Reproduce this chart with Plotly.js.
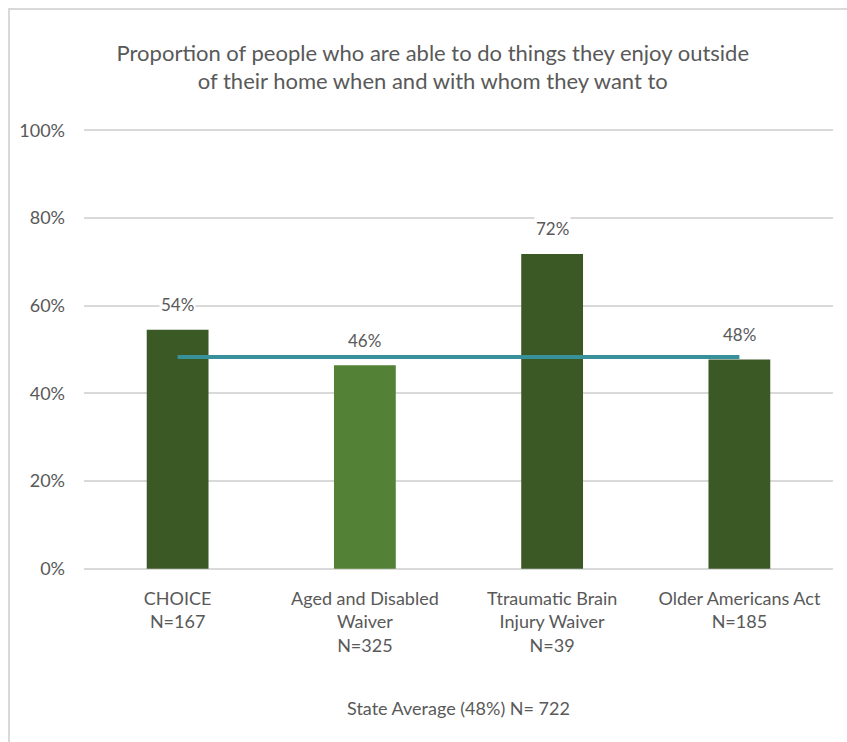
<!DOCTYPE html>
<html>
<head>
<meta charset="utf-8">
<script src="https://cdn.plot.ly/plotly-3.0.1.min.js"></script>
<style>
html,body{margin:0;padding:0;background:#fff;}
#frame{position:absolute;left:8px;top:8px;width:845px;height:740px;border-left:2px solid #d9d9d9;border-top:2px solid #d9d9d9;box-sizing:border-box;}
#chart{position:absolute;left:0;top:0;width:847px;height:742px;}
</style>
</head>
<body>
<div id="frame"></div>
<div id="chart"></div>
<script>
const categories = ["CHOICE", "Aged and Disabled Waiver", "Ttraumatic Brain Injury Waiver", "Older Americans Act"];
const tickLabels = ["CHOICE<br>N=167", "Aged and Disabled<br>Waiver<br>N=325", "Ttraumatic Brain<br>Injury Waiver<br>N=39", "Older Americans Act<br>N=185"];
const values = [54.5, 46.4, 71.8, 47.7];
const valueLabels = ["54%", "46%", "72%", "48%"];
const barColors = ["#3b5925", "#538135", "#3b5925", "#3b5925"];
const stateAverage = [48.3, 48.3, 48.3, 48.3];
const yTicks = [0, 20, 40, 60, 80, 100];
const yTickLabels = ["0%", "20%", "40%", "60%", "80%", "100%"];

const font = "Lato, sans-serif";
const gray = "#595959";

const traces = [
  {type: "bar", x: categories, y: values, marker: {color: barColors}, width: 0.33, hoverinfo: "skip"},
  {type: "scatter", mode: "lines", x: categories, y: stateAverage, line: {color: "#37909a", width: 4}, hoverinfo: "skip"}
];

const annotations = categories.map((c, i) => ({
  x: c, y: values[i], xref: "x", yref: "y", text: valueLabels[i], showarrow: false,
  yanchor: "middle", yshift: 25, bgcolor: "#ffffff", borderpad: 1,
  font: {family: font, size: 17, color: gray}
}));

const layout = {
  width: 847, height: 742,
  paper_bgcolor: "rgba(0,0,0,0)", plot_bgcolor: "rgba(0,0,0,0)",
  margin: {l: 84, r: 14, t: 129, b: 172},
  showlegend: false,
  bargap: 0.67,
  title: {text: "Proportion of people who are able to do things they enjoy outside<br>of their home when and with whom they want to",
          x: 0.511, xref: "container", xanchor: "center", y: 0.918, yref: "container", yanchor: "middle",
          font: {family: font, size: 22, color: gray}},
  xaxis: {
    type: "category", tickmode: "array", tickvals: categories, ticktext: tickLabels,
    tickfont: {family: font, size: 18, color: gray}, showgrid: false, zeroline: false,
    showline: false, ticks: "", ticklen: 0, ticklabelstandoff: 16,
    title: {text: "State Average (48%) N= 722", font: {family: font, size: 18, color: gray}, standoff: 47}
  },
  yaxis: {
    range: [-0.3, 100.3], tickmode: "array", tickvals: yTicks, ticktext: yTickLabels,
    tickfont: {family: font, size: 18, color: gray}, showgrid: true, gridcolor: "#d9d9d9", gridwidth: 2,
    zeroline: false, showline: false, ticks: "", ticklabelstandoff: 18
  },
  annotations: annotations
};

Plotly.newPlot("chart", traces, layout, {staticPlot: true, displayModeBar: false});
</script>
</body>
</html>
